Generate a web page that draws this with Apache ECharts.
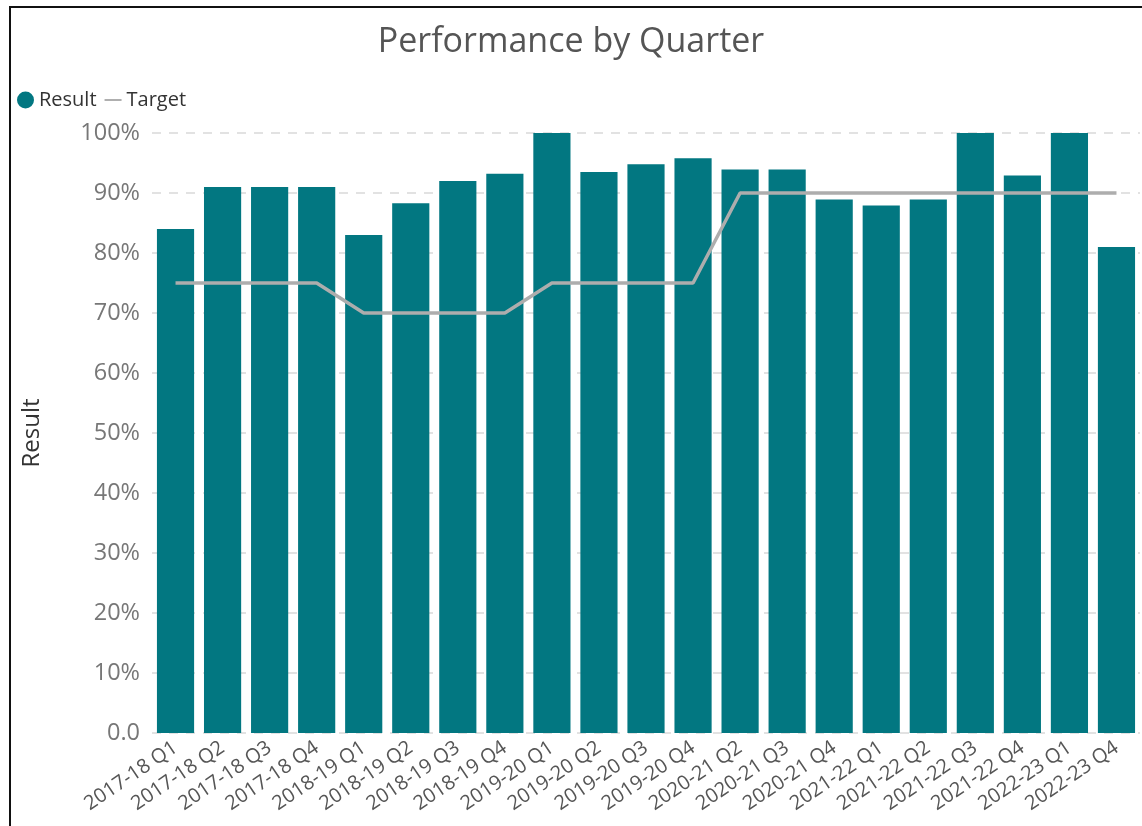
<!DOCTYPE html>
<html>
<head>
<meta charset="utf-8">
<script src="https://cdn.jsdelivr.net/npm/echarts@6/dist/echarts.min.js"></script>
<style>
  html, body { margin: 0; padding: 0; background: #fff; }
  #chart { width: 1142px; height: 826px; }
  .frame {
    position: absolute; left: 9px; top: 6px; right: 0; bottom: 0;
    border-left: 2px solid #111; border-top: 2px solid #111;
    pointer-events: none;
  }
</style>
</head>
<body>
<div id="chart"></div>
<div class="frame"></div>
<script>
  // 季度分类
  const quarters = [
    '2017-18 Q1', '2017-18 Q2', '2017-18 Q3', '2017-18 Q4',
    '2018-19 Q1', '2018-19 Q2', '2018-19 Q3', '2018-19 Q4',
    '2019-20 Q1', '2019-20 Q2', '2019-20 Q3', '2019-20 Q4',
    '2020-21 Q2', '2020-21 Q3', '2020-21 Q4',
    '2021-22 Q1', '2021-22 Q2', '2021-22 Q3', '2021-22 Q4',
    '2022-23 Q1', '2022-23 Q4'
  ]
  // 实际结果 (%)
  const resultValues = [
    84, 91, 91, 91,
    83, 88.3, 92, 93.2,
    100, 93.5, 94.8, 95.8,
    93.9, 93.9, 88.9,
    87.9, 88.9, 100, 92.9,
    100, 81
  ]
  // 目标 (%)
  const targetValues = [
    75, 75, 75, 75,
    70, 70, 70, 70,
    75, 75, 75, 75,
    90, 90, 90,
    90, 90, 90, 90,
    90, 90
  ]

  const font = 'Open Sans'
  const chart = echarts.init(document.getElementById('chart'))
  const option = {
    animation: false,
    textStyle: { fontFamily: font },
    title: {
      text: 'Performance by Quarter',
      left: 'center',
      top: 20,
      textStyle: { fontFamily: font, fontSize: 34, fontWeight: 'normal', color: '#555' }
    },
    legend: {
      left: 12,
      top: 85,
      itemGap: 8,
      itemWidth: 17,
      itemHeight: 17,
      textStyle: { fontFamily: font, fontSize: 20, color: '#333' },
      data: [
        { name: 'Result', icon: 'circle' },
        { name: 'Target', icon: 'path://M0,8 L18,8 L18,10 L0,10 Z', itemStyle: { color: '#aaa' } }
      ]
    },
    grid: { left: 152, right: 2, top: 133, bottom: 93 },
    xAxis: {
      type: 'category',
      data: quarters,
      axisLine: { show: false },
      axisTick: { show: false },
      axisLabel: {
        interval: 0,
        rotate: 34,
        margin: 13,
        fontFamily: font,
        fontSize: 20,
        color: '#555'
      }
    },
    yAxis: {
      type: 'value',
      min: 0,
      max: 100,
      interval: 10,
      name: 'Result',
      nameLocation: 'middle',
      nameGap: 108,
      nameTextStyle: { fontFamily: font, fontSize: 24, color: '#333' },
      axisLabel: {
        margin: 12,
        fontFamily: font,
        fontSize: 23.5,
        color: '#777',
        formatter: v => v === 0 ? '0.0' : v + '%'
      },
      splitLine: {
        lineStyle: { type: [9, 8], color: '#e2e2e2', width: 2 }
      }
    },
    series: [
      {
        name: 'Result',
        type: 'bar',
        data: resultValues,
        barCategoryGap: '21%',
        itemStyle: { color: '#027781' }
      },
      {
        name: 'Target',
        type: 'line',
        data: targetValues,
        showSymbol: false,
        symbol: 'none',
        lineStyle: { color: '#adadad', width: 3.5 },
        itemStyle: { color: '#adadad' }
      }
    ]
  }
  chart.setOption(option)
</script>
</body>
</html>
